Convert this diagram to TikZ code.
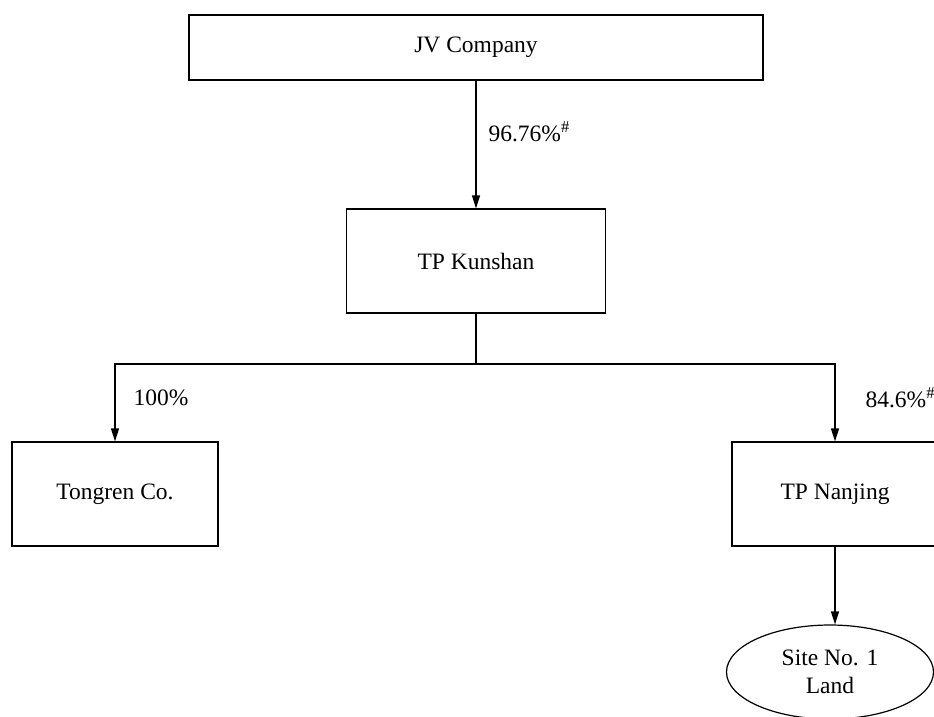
\documentclass[tikz,border=0pt]{standalone}
\usepackage{fontspec}
\setmainfont{Liberation Serif}
\usetikzlibrary{arrows.meta,shapes.geometric}
\begin{document}
\begin{tikzpicture}[x=1pt,y=-1pt,line width=1.2pt,
    >={Triangle[length=13pt,width=8pt]},
    font=\fontsize{23.5}{28}\selectfont]
    \tikzset{box/.style={rectangle,draw,inner sep=0pt},
      pct/.style={anchor=west,inner sep=0pt}}
    \useasboundingbox (0,0) rectangle (934,716);
    \clip (0,0) rectangle (934,716);

    \node(jv)[box,minimum width=574pt,minimum height=65pt] at (476,47.5) {JV Company};
    \node(kunshan)[box,minimum width=259pt,minimum height=104pt] at (476,261) {TP Kunshan};
    \node(tongren)[box,minimum width=206pt,minimum height=104pt] at (115,494) {Tongren Co.};
    \node(nanjing)[box,minimum width=206pt,minimum height=104pt] at (835,494) {TP Nanjing};
    \node(site)[ellipse,draw,inner sep=0pt,minimum width=207pt,minimum height=94pt,align=center] at (830,672) {Site No. 1\\Land};
    \coordinate(split) at (476,364);

    \path[->]
    (jv) edge node[pct,pos=0.4,xshift=12pt] {96.76\%\textsuperscript{\#}} (kunshan);
    \draw (kunshan) -- (split);
    \draw[->] (split) -| node[pct,pos=0.72,xshift=18pt] {100\%} (tongren);
    \draw[->] (split) -| node[pct,pos=0.72,xshift=30pt] {84.6\%\textsuperscript{\#}} (nanjing);
    \draw[->] (nanjing.south) -- (nanjing.south |- site.north);
    % \draw[->] (nanjing) -- (site);

  \end{tikzpicture}
\end{document}
